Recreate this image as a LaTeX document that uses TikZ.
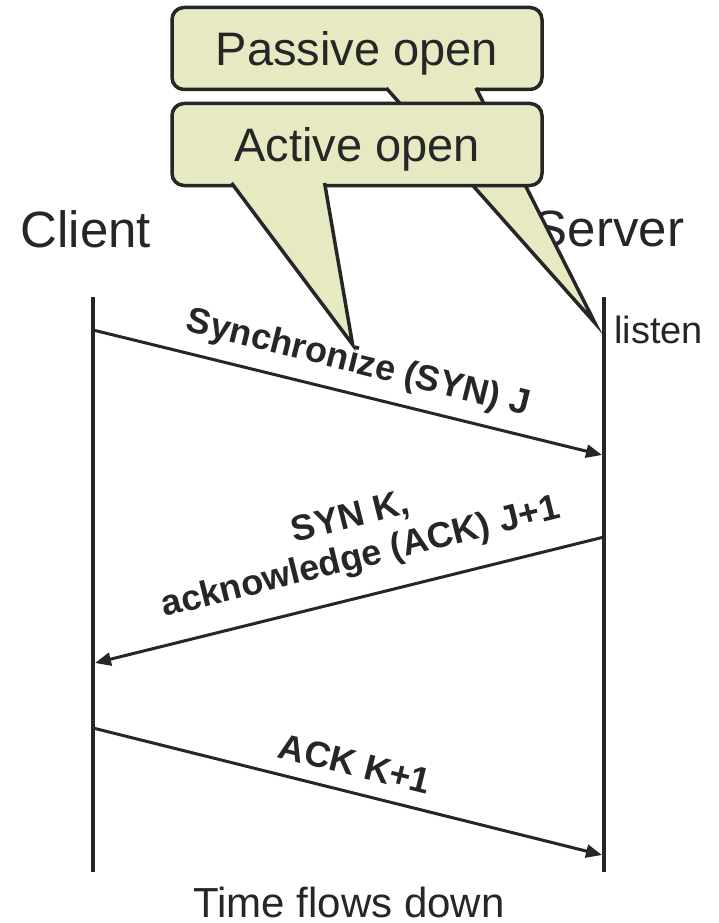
\documentclass[tikz,border=0pt]{standalone}
\usepackage{fontspec}
\setmainfont{Liberation Sans}
\usetikzlibrary{arrows.meta}
\definecolor{ink}{RGB}{38,38,38}
\definecolor{note}{RGB}{230,233,194}

\begin{document}
\begin{tikzpicture}[x=1pt,y=-1pt,
  lifeline/.style={draw=ink, line width=3.6pt},
  msg/.style={draw=ink, line width=3pt, -{Triangle[length=16pt,width=13pt]}},
  msglabel/.style={font=\fontsize{36}{41}\selectfont\bfseries, text=ink, align=center, inner sep=0pt},
  party/.style={font=\fontsize{51}{60}\selectfont, text=ink, inner sep=0pt, anchor=base},
  notebox/.style={draw=ink, fill=note, line width=3.5pt, rounded corners=12pt,
    minimum width=370pt, minimum height=82pt, inner sep=0pt,
    font=\fontsize{47}{56}\selectfont, text=ink, text height=33.7pt, text depth=0pt},
  notefill/.style={fill=note},
  noteedge/.style={draw=ink, line width=3.5pt, line join=miter},
]
\useasboundingbox (0,0) rectangle (718,923);

% participants
\node[party] (client) at (86,247) {Client};
\node[party] (server) at (609,246) {Server};
\node[font=\fontsize{38}{45}\selectfont, text=ink, inner sep=0pt, anchor=base west] (listen) at (614,343) {listen};
\node[font=\fontsize{42}{50}\selectfont, text=ink, inner sep=0pt, anchor=base] (time) at (349,917) {Time flows down};

% lifelines
\coordinate (ctop) at (93,297);
\coordinate (cbot) at (93,872);
\coordinate (stop) at (604,297);
\coordinate (sbot) at (604,872);
\draw[lifeline] (ctop) -- (cbot);
\draw[lifeline] (stop) -- (sbot);

% message end points
\coordinate (c1) at (93,330);
\coordinate (s1) at (602,455);
\coordinate (s2) at (604,537);
\coordinate (c2) at (95,663);
\coordinate (c3) at (93,728);
\coordinate (s3) at (602,855);

\draw[msg] (c1) -- (s1);
\draw[msg] (s2) -- (c2);
\draw[msg] (c3) -- (s3);

\node[msglabel, rotate=-14] (syn) at (358,364) {Synchronize (SYN) J};
\node[msglabel, rotate=14] (synack) at (356,539) {SYN K,\\acknowledge (ACK) J+1};
\node[msglabel, rotate=-14] (ack) at (355,764) {ACK K+1};

% passive open callout
\node[notebox] (passive) at (357,48.5) {Passive open};
\coordinate (ptip) at (595,323);
\fill[notefill] (382.7,84) -- (ptip) -- (473.9,84) -- cycle;
\draw[noteedge] (386.2,88) -- (ptip) -- (476,88);

% active open callout
\node[notebox] (active) at (357,144.5) {Active open};
\coordinate (atip) at (352.6,344.5);
\fill[notefill] (228.6,179) -- (atip) -- (323.9,179) -- cycle;
\draw[noteedge] (231.5,183) -- (atip) -- (324.6,183);
\end{tikzpicture}
\end{document}
